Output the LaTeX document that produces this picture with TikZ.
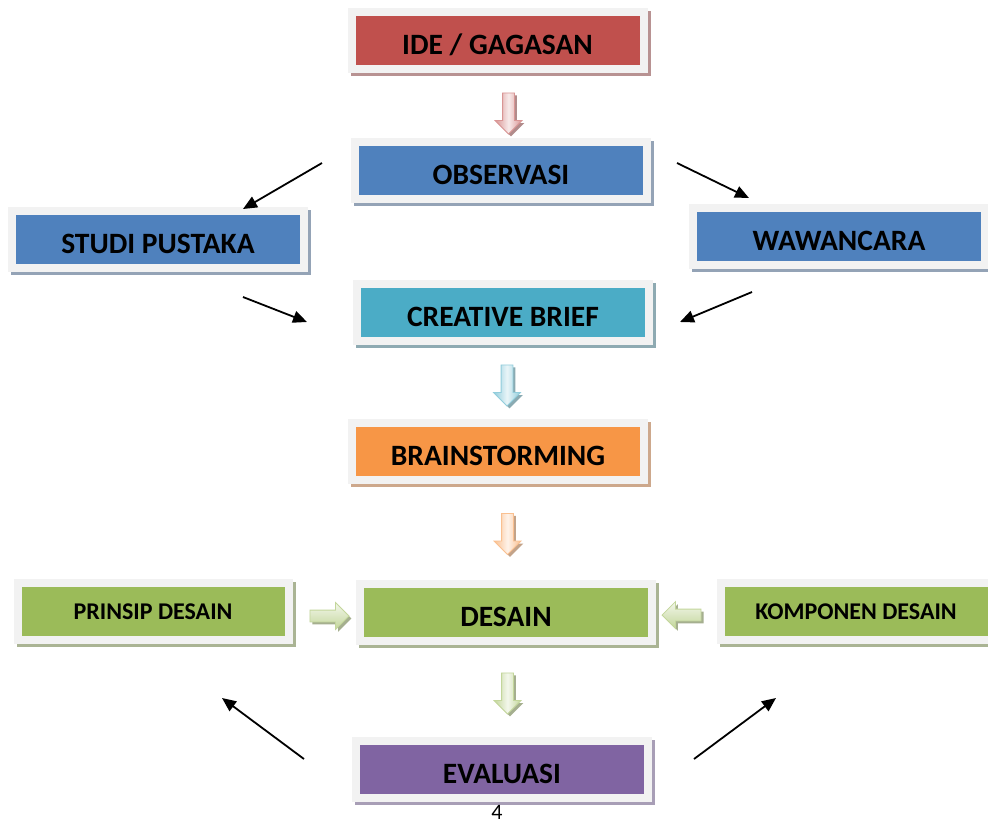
\documentclass[tikz,border=0pt]{standalone}
\usepackage{fontspec}
\setmainfont{Carlito}
\usetikzlibrary{arrows.meta,shapes.arrows,positioning,calc}
\definecolor{FrameGray}{RGB}{242,242,242}
\definecolor{IdeRed}{RGB}{192,80,77}
\definecolor{IdeRedShadow}{RGB}{184,146,146}
\definecolor{ObsBlue}{RGB}{79,129,189}
\definecolor{ObsBlueShadow}{RGB}{148,163,182}
\definecolor{BriefTeal}{RGB}{75,172,198}
\definecolor{BriefTealShadow}{RGB}{142,170,178}
\definecolor{BrainOrange}{RGB}{247,150,70}
\definecolor{BrainOrangeShadow}{RGB}{205,168,140}
\definecolor{DesainGreen}{RGB}{155,187,89}
\definecolor{DesainGreenShadow}{RGB}{170,180,148}
\definecolor{EvalPurple}{RGB}{128,100,162}
\definecolor{EvalPurpleShadow}{RGB}{168,158,182}
\definecolor{PinkArrow}{RGB}{217,149,148}
\definecolor{BlueArrow}{RGB}{146,205,220}
\definecolor{OrangeArrow}{RGB}{250,192,144}
\definecolor{GreenArrow}{RGB}{195,214,155}
\tikzset{
  stepbox/.style={rectangle,draw=FrameGray,line width=8pt,fill=#1,
    preaction={draw=#1Shadow,fill=#1Shadow,line width=8pt,
      transform canvas={shift={(3pt,-3pt)}}},
    minimum width=292pt,minimum height=57pt,inner sep=0pt,outer sep=0pt,
    text height=28pt,text depth=0pt,align=center,
    font=\bfseries\fontsize{29.5}{31}\selectfont},
  sidebox/.style={stepbox=#1,minimum width=271pt,text height=,text depth=,
    font=\bfseries\fontsize{24}{26}\selectfont},
  blockarrow/.style={single arrow,draw=#1,line width=0.8pt,
    inner sep=5.5pt,single arrow head extend=7.5pt,
    minimum height=41pt,outer sep=0pt,
    preaction={fill=#1!55!gray,transform canvas={shift={(2.5pt,-2.5pt)}}}},
  downarrow/.style={blockarrow=#1,shape border rotate=270,
    left color=#1,right color=#1,middle color=#1!20!white},
  sidearrow/.style={blockarrow=#1,minimum height=39pt,
    top color=#1!20!white,bottom color=#1},
  thinarrow/.style={-{Triangle[length=14pt,width=12pt]},line width=1.8pt},
}

\begin{document}
\begin{tikzpicture}[x=1pt,y=-1pt]
\useasboundingbox[fill=white] (0,0) rectangle (988,823);
\node[stepbox=IdeRed] (ide) at (497.5,40) {IDE / GAGASAN};
\node[stepbox=ObsBlue] (obs) at (501,170.5) {OBSERVASI};
\node[stepbox=ObsBlue] (studi) at (158,239) {STUDI PUSTAKA};
\node[stepbox=ObsBlue] (wawan) at (839,236) {WAWANCARA};
\node[stepbox=BriefTeal] (brief) at (503,312.5) {CREATIVE BRIEF};
\node[stepbox=BrainOrange] (brain) at (498,451) {BRAINSTORMING};
\node[stepbox=DesainGreen] (desain) at (506,612) {DESAIN};
\node[sidebox=DesainGreen] (prinsip) at (153,611.5) {PRINSIP DESAIN};
\node[sidebox=DesainGreen] (komp) at (856,611.5) {KOMPONEN DESAIN};
\node[stepbox=EvalPurple] (eval) at (502,769) {EVALUASI};
\node[font=\fontsize{22}{24}\selectfont,anchor=base,inner sep=0pt] (pagenum) at (497,819) {4};
% block arrows between the boxes
\node[downarrow=PinkArrow] (ideobs) at (508.5,110.5) {};
\node[downarrow=BlueArrow] (briefbrain) at (507,382.5) {};
\node[downarrow=OrangeArrow] (braindesain) at (507.5,531) {};
\node[downarrow=GreenArrow] (desaineval) at (507.5,690.5) {};
\node[sidearrow=GreenArrow] (prinsipdesain) at (326.5,616) {};
\node[sidearrow=GreenArrow,shape border rotate=180] (kompdesain) at (684.5,615) {};
% loose arrows
\coordinate (obsL) at (322,163);
\coordinate (studiT) at (243,209);
\coordinate (obsR) at (677,163);
\coordinate (wawanT) at (749,198);
\coordinate (studiB) at (243,297);
\coordinate (briefL) at (307,322);
\coordinate (wawanB) at (752,292);
\coordinate (briefR) at (680,322);
\coordinate (evalL) at (304,759);
\coordinate (prinsipB) at (222,698);
\coordinate (evalR) at (694,759);
\coordinate (kompB) at (776,698);
\draw[thinarrow] (obsL) -- (studiT);
\draw[thinarrow] (obsR) -- (wawanT);
\draw[thinarrow] (studiB) -- (briefL);
\draw[thinarrow] (wawanB) -- (briefR);
\draw[thinarrow] (evalL) -- (prinsipB);
\draw[thinarrow] (evalR) -- (kompB);
\end{tikzpicture}
\end{document}
